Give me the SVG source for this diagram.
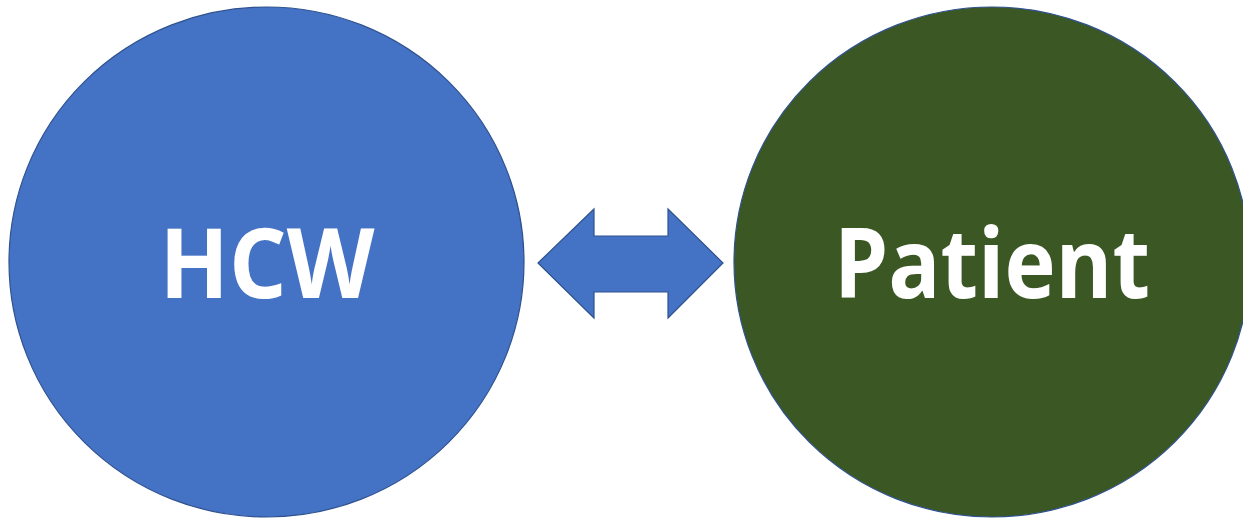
<svg xmlns="http://www.w3.org/2000/svg" width="1243" height="518" viewBox="0 0 1243 518">
  <style>
    .node-shape { stroke: #2F528F; stroke-width: 1.2; }
    .label { fill: #FFFFFF; font-family: "Open Sans", "Liberation Sans", sans-serif; font-weight: bold; font-size: 96px; text-anchor: middle; }
  </style>
  <rect width="1243" height="518" fill="#FFFFFF"/>
  <g id="node-hcw">
    <ellipse class="node-shape" cx="266.5" cy="262" rx="257.5" ry="255" fill="#4472C4"/>
    <text class="label" x="267" y="298" textLength="215" lengthAdjust="spacingAndGlyphs">HCW</text>
  </g>
  <g id="node-patient">
    <ellipse class="node-shape" cx="992" cy="262" rx="258" ry="255" fill="#3A5724"/>
    <text class="label" x="992" y="298" textLength="316" lengthAdjust="spacingAndGlyphs">Patient</text>
  </g>
  <g id="connectors">
    <polygon class="node-shape" fill="#4472C4" points="538,263 594,209 594,236 668,236 668,209 723,263 668,318 668,292 594,292 594,318"/>
  </g>
</svg>
